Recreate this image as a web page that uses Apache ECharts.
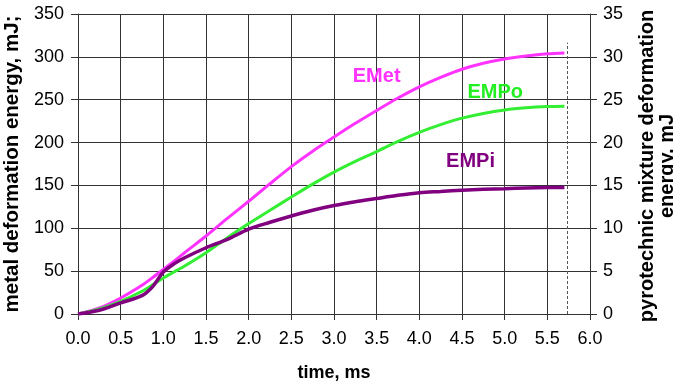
<!DOCTYPE html>
<html>
<head>
<meta charset="utf-8">
<script src="https://cdn.jsdelivr.net/npm/echarts@6/dist/echarts.min.js"></script>
<style>
html,body{margin:0;padding:0;background:#fff;}
#chart{width:673px;height:387px;}
</style>
</head>
<body>
<div id="chart"></div>
<script>
// time, ms
const times = [0, 0.25, 0.5, 0.75, 0.875, 1.0, 1.125, 1.25, 1.5, 1.75, 2.0, 2.25, 2.5, 2.75, 3.0, 3.25, 3.5, 3.75, 4.0, 4.25, 4.5, 4.75, 5.0, 5.25, 5.5, 5.7];
// metal deformation energy, mJ (left axis)
const emet = [0, 7, 18.7, 33.5, 42.5, 52, 61.5, 71.5, 91, 111.5, 131.5, 152, 172, 190, 206.5, 222.5, 237.5, 252, 265, 276, 285.5, 292.5, 297.5, 301, 303.5, 304.5];
// pyrotechnic mixture deformation energy, mJ (right axis)
const empo = [0, 0.59, 1.48, 2.65, 3.4, 4.2, 4.9, 5.6, 7.15, 8.9, 10.55, 12.1, 13.65, 15.15, 16.55, 17.8, 18.95, 20.15, 21.2, 22.1, 22.85, 23.4, 23.8, 24.05, 24.2, 24.25];
const empi = [0, 0.43, 1.29, 2.14, 3.2, 4.9, 5.85, 6.56, 7.73, 8.7, 9.9, 10.7, 11.44, 12.1, 12.65, 13.1, 13.48, 13.85, 14.15, 14.3, 14.45, 14.55, 14.62, 14.7, 14.75, 14.77];
// series name labels [time, value on the series' axis]
const labelEMet = [3.5, 277];
const labelEMPo = [4.89, 25.9];
const labelEMPi = [4.6, 17.8];
// dashed marker: time and top value (left axis)
const dashTime = 5.73;
const dashTop = 316.5;

const xTicks = {min: 0, max: 6, interval: 0.5};
const yLeft = {min: 0, max: 350, interval: 50};
const yRight = {min: 0, max: 35, interval: 5};

const FONT = 'Liberation Sans, Arial, sans-serif';
const pairs = (arr) => times.map((t, i) => [t, arr[i]]);

const chart = echarts.init(document.getElementById('chart'), null, {renderer: 'canvas'});
const lbl = (color) => ({
  show: true, position: 'inside', color: color, fontFamily: FONT,
  fontWeight: 'bold', fontSize: 20, formatter: '{b}'
});
chart.setOption({
  animation: false,
  backgroundColor: '#fff',
  grid: {left: 78, right: 83, top: 14, bottom: 73, containLabel: false, outerBoundsMode: 'none'},
  xAxis: {
    type: 'value', min: xTicks.min, max: xTicks.max, interval: xTicks.interval,
    name: 'time, ms', nameLocation: 'middle', nameGap: 50,
    nameTextStyle: {fontFamily: FONT, fontWeight: 'bold', fontSize: 18, color: '#000'},
    axisLine: {show: true, onZero: false, lineStyle: {color: '#333', width: 1}},
    axisTick: {show: true, inside: false, length: 6, lineStyle: {color: '#333'}},
    axisLabel: {fontFamily: FONT, fontSize: 18, color: '#000', margin: 16,
      formatter: (v) => v.toFixed(1)},
    splitLine: {show: true, lineStyle: {color: '#333', width: 1}}
  },
  yAxis: [{
    type: 'value', position: 'left', min: yLeft.min, max: yLeft.max, interval: yLeft.interval,
    name: 'metal deformation energy, mJ;', nameLocation: 'middle', nameGap: 48,
    nameTextStyle: {fontFamily: FONT, fontWeight: 'bold', fontSize: 20.5, color: '#000'},
    axisLine: {show: true, lineStyle: {color: '#333', width: 1}},
    axisTick: {show: true, inside: false, length: 7, lineStyle: {color: '#333'}},
    axisLabel: {fontFamily: FONT, fontSize: 18, color: '#000', margin: 14},
    splitLine: {show: true, lineStyle: {color: '#333', width: 1}}
  }, {
    type: 'value', position: 'right', min: yRight.min, max: yRight.max, interval: yRight.interval,
    axisLine: {show: true, lineStyle: {color: '#333', width: 1}},
    axisTick: {show: true, inside: false, length: 7, lineStyle: {color: '#333'}},
    axisLabel: {fontFamily: FONT, fontSize: 18, color: '#000', margin: 13},
    splitLine: {show: false}
  }],
  graphic: [{
    type: 'text', x: 657, y: 166, rotation: Math.PI / 2,
    style: {
      text: 'pyrotechnic mixture deformation\nenergy, mJ',
      fontFamily: FONT, fontWeight: 'bold', fontSize: 20, lineHeight: 20,
      fill: '#000', align: 'center', verticalAlign: 'middle'
    }
  }],
  series: [{
    name: 'EMet', type: 'line', yAxisIndex: 0, data: pairs(emet),
    smooth: 0.3, showSymbol: false, symbol: 'none',
    lineStyle: {color: '#ff33ff', width: 3}, itemStyle: {color: '#ff33ff'},
    markPoint: {symbol: 'circle', symbolSize: 1, itemStyle: {color: 'rgba(0,0,0,0)'},
      label: lbl('#ff33ff'), data: [{name: 'EMet', coord: labelEMet}]},
    markLine: {silent: true, symbol: 'none', label: {show: false},
      lineStyle: {color: '#555', type: [3, 2], width: 1},
      data: [[{coord: [dashTime, 0]}, {coord: [dashTime, dashTop]}]]}
  }, {
    name: 'EMPo', type: 'line', yAxisIndex: 1, data: pairs(empo),
    smooth: 0.3, showSymbol: false, symbol: 'none',
    lineStyle: {color: '#33ee33', width: 3}, itemStyle: {color: '#33ee33'},
    markPoint: {symbol: 'circle', symbolSize: 1, itemStyle: {color: 'rgba(0,0,0,0)'},
      label: lbl('#22ee22'), data: [{name: 'EMPo', coord: labelEMPo}]}
  }, {
    name: 'EMPi', type: 'line', yAxisIndex: 1, data: pairs(empi),
    smooth: 0.3, showSymbol: false, symbol: 'none',
    lineStyle: {color: '#800080', width: 3.5}, itemStyle: {color: '#800080'},
    markPoint: {symbol: 'circle', symbolSize: 1, itemStyle: {color: 'rgba(0,0,0,0)'},
      label: lbl('#800080'), data: [{name: 'EMPi', coord: labelEMPi}]}
  }]
});
</script>
</body>
</html>
